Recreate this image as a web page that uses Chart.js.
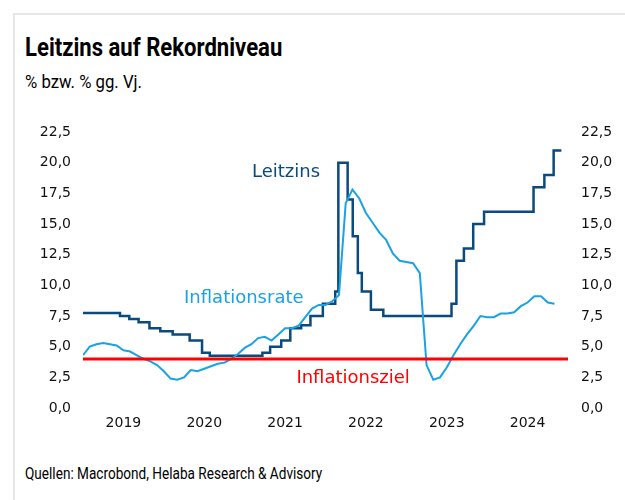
<!DOCTYPE html>
<html>
<head>
<meta charset="utf-8">
<script src="https://cdn.jsdelivr.net/npm/chart.js@4"></script>
<style>
  html, body { margin: 0; padding: 0; background: #fff; }
  body { width: 625px; height: 500px; position: relative; overflow: hidden; }
  .frame { position: absolute; left: 13px; top: 13px; right: -5px; bottom: -5px; border-left: 2px solid #e6e6e6; border-top: 2px solid #e6e6e6; }
  .title { position: absolute; left: 25px; top: 32px; font: bold 26px "Roboto", sans-serif; color: #000; white-space: nowrap; transform: scaleX(0.85); transform-origin: left top; }
  .sub { position: absolute; left: 25px; top: 71px; font: 18px "Roboto", sans-serif; color: #000; white-space: nowrap; transform: scaleX(0.93); transform-origin: left top; }
  .foot { position: absolute; left: 25px; top: 463px; font: 17px "Roboto", sans-serif; color: #000; white-space: nowrap; transform: scaleX(0.8); transform-origin: left top; }
  canvas { position: absolute; left: 0; top: 100px; }
</style>
</head>
<body>
<div class="frame"></div>
<div class="title">Leitzins auf Rekordniveau</div>
<div class="sub">% bzw. % gg. Vj.</div>
<div class="foot">Quellen: Macrobond, Helaba Research &amp; Advisory</div>
<canvas id="myChart" width="625" height="340"></canvas>
<script>
// Leitzins: Datum der Änderung und neuer Satz
const leitzinsDates = ['2019-01-01','2019-06-17','2019-07-29','2019-09-09','2019-10-28','2019-12-16',
  '2020-02-10','2020-04-27','2020-06-22','2020-07-27','2021-03-22','2021-04-26','2021-06-15',
  '2021-07-26','2021-09-13','2021-10-25','2021-12-20','2022-02-14','2022-02-28','2022-04-11',
  '2022-05-04','2022-05-27','2022-06-14','2022-07-25','2022-09-19','2023-07-24','2023-08-15',
  '2023-09-18','2023-10-30','2023-12-18','2024-07-29','2024-09-16','2024-10-28','2024-12-02']
const leitzinsValues = [7.75, 7.5, 7.25, 7.0, 6.5, 6.25,
  6.0, 5.5, 4.5, 4.25, 4.5, 5.0, 5.5,
  6.5, 6.75, 7.5, 8.5, 9.5, 20, 17,
  14, 11, 9.5, 8, 7.5, 8.5, 12,
  13, 15, 16, 18, 19, 21, 21]

// Inflationsrate, monatlich (Monatsende)
const inflationStart = '2018-12'
const inflationValues = [4.3,
  5.0, 5.2, 5.3, 5.2, 5.1, 4.7, 4.6, 4.3, 4.0, 3.8, 3.5, 3.0,
  2.4, 2.3, 2.5, 3.1, 3.0, 3.2, 3.4, 3.6, 3.7, 4.0, 4.4, 4.9,
  5.2, 5.7, 5.8, 5.5, 6.0, 6.5, 6.5, 6.7, 7.4, 8.1, 8.4, 8.4,
  8.7, 9.2, 16.7, 17.8, 17.1, 15.9, 15.1, 14.3, 13.7, 12.6, 12.0, 11.9,
  11.8, 11.0, 3.5, 2.3, 2.5, 3.3, 4.3, 5.2, 6.0, 6.7, 7.5, 7.4,
  7.4, 7.7, 7.7, 7.8, 8.3, 8.6, 9.1, 9.1, 8.6, 8.5]

const inflationsziel = 4.0
const yearLabels = ['2019', '2020', '2021', '2022', '2023', '2024']
const xMin = 2019, xMax = 2025

const dark = '#0b4a7e', light = '#1aa2e2', red = '#ff0000'

function dateToYear(s) {
  const d = new Date(s + 'T00:00:00Z')
  const y = d.getUTCFullYear()
  const start = Date.UTC(y, 0, 1), end = Date.UTC(y + 1, 0, 1)
  return y + (d.getTime() - start) / (end - start)
}

const leitzinsData = leitzinsDates.map((d, i) => ({ x: dateToYear(d), y: leitzinsValues[i] }))

let sy = parseInt(inflationStart.slice(0, 4)), sm = parseInt(inflationStart.slice(5))
const inflationData = inflationValues.map((v, i) => {
  const m = sm + i
  return { x: sy + m / 12, y: v }
})

const zielData = [{ x: xMin, y: inflationsziel }, { x: xMax, y: inflationsziel }]

// Beschriftungen im Chart
const chartLabels = [
  { text: 'Leitzins', x: 2021.09, y: 19.2, color: dark },
  { text: 'Inflationsrate', x: 2020.25, y: 8.95, color: light },
  { text: 'Inflationsziel', x: 2021.64, y: 2.45, color: red }
]

const labelPlugin = {
  id: 'labels',
  afterDatasetsDraw(chart) {
    const ctx = chart.ctx
    const xs = chart.scales.x, ys = chart.scales.y
    ctx.save()
    ctx.font = '18px "DejaVu Sans", sans-serif'
    ctx.textBaseline = 'middle'
    ctx.textAlign = 'left'
    chartLabels.forEach(l => {
      ctx.fillStyle = l.color
      ctx.fillText(l.text, xs.getPixelForValue(l.x), ys.getPixelForValue(l.y))
    })
    ctx.restore()
  }
}

const tickFont = { family: '"DejaVu Sans", sans-serif', size: 14 }
const fmt = v => v.toFixed(1).replace('.', ',')

new Chart('myChart', {
  type: 'line',
  data: {
    datasets: [{
      data: zielData,
      borderColor: red,
      borderWidth: 3,
      pointRadius: 0,
      fill: false
    }, {
      data: inflationData,
      borderColor: light,
      borderWidth: 2,
      pointRadius: 0,
      tension: 0,
      fill: false
    }, {
      data: leitzinsData,
      borderColor: dark,
      borderWidth: 2.5,
      pointRadius: 0,
      stepped: 'before',
      fill: false
    }]
  },
  options: {
    responsive: false,
    animation: false,
    layout: { padding: { top: 32, left: 0, right: 0, bottom: 0 } },
    plugins: { legend: { display: false }, tooltip: { enabled: false } },
    scales: {
      x: {
        type: 'linear',
        min: xMin,
        max: xMax,
        grid: { display: false, drawTicks: false },
        border: { display: false },
        afterBuildTicks: s => { s.ticks = yearLabels.map(y => ({ value: parseInt(y) + 0.5 })) },
        afterFit: s => { s.height = 32 },
        ticks: {
          font: tickFont,
          color: '#111',
          padding: 7,
          maxRotation: 0,
          callback: v => yearLabels[Math.floor(v) - xMin]
        }
      },
      y: {
        position: 'left',
        min: 0,
        max: 22.5,
        grid: { display: false, drawTicks: false },
        border: { display: false },
        afterFit: s => { s.width = 83 },
        ticks: { stepSize: 2.5, font: tickFont, color: '#111', padding: 12, callback: fmt }
      },
      y2: {
        position: 'right',
        min: 0,
        max: 22.5,
        grid: { display: false, drawTicks: false },
        border: { display: false },
        afterFit: s => { s.width = 57 },
        ticks: { stepSize: 2.5, font: tickFont, color: '#111', padding: 13, callback: fmt }
      }
    }
  },
  plugins: [labelPlugin]
})
</script>
</body>
</html>
